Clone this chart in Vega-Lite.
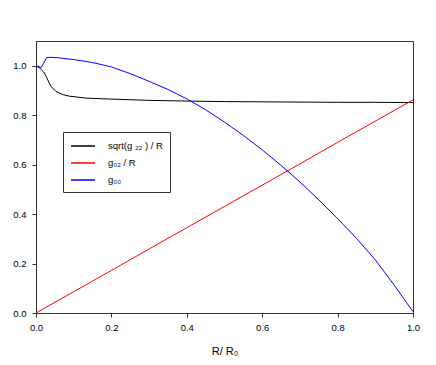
{
  "$schema": "https://vega.github.io/schema/vega-lite/v6.json",
  "width": 377,
  "height": 272,
  "autosize": "none",
  "padding": {"left": 36, "top": 41, "right": 23, "bottom": 52},
  "background": "white",
  "config": {
    "view": {"stroke": "#333", "strokeWidth": 1},
    "font": "Liberation Sans",
    "axis": {
      "grid": false,
      "domainColor": "#333",
      "tickColor": "#333",
      "tickSize": 4,
      "labelColor": "#000",
      "labelFont": "Liberation Sans",
      "labelFontSize": 9.5,
      "labelFlush": false,
      "titleFont": "Liberation Sans",
      "titleFontSize": 11,
      "titleFontWeight": "normal",
      "titleColor": "#000"
    }
  },
  "data": {
    "values": [
      {"label": "sqrt(g ₂₂ ) / R\u00a0\u00a0", "r": 0, "v": 1.0},
      {"label": "sqrt(g ₂₂ ) / R\u00a0\u00a0", "r": 0.01, "v": 0.99},
      {"label": "sqrt(g ₂₂ ) / R\u00a0\u00a0", "r": 0.02, "v": 0.975},
      {"label": "sqrt(g ₂₂ ) / R\u00a0\u00a0", "r": 0.027, "v": 0.957},
      {"label": "sqrt(g ₂₂ ) / R\u00a0\u00a0", "r": 0.035, "v": 0.93},
      {"label": "sqrt(g ₂₂ ) / R\u00a0\u00a0", "r": 0.04, "v": 0.916},
      {"label": "sqrt(g ₂₂ ) / R\u00a0\u00a0", "r": 0.053, "v": 0.896},
      {"label": "sqrt(g ₂₂ ) / R\u00a0\u00a0", "r": 0.07, "v": 0.884},
      {"label": "sqrt(g ₂₂ ) / R\u00a0\u00a0", "r": 0.088, "v": 0.877},
      {"label": "sqrt(g ₂₂ ) / R\u00a0\u00a0", "r": 0.133, "v": 0.869},
      {"label": "sqrt(g ₂₂ ) / R\u00a0\u00a0", "r": 0.2, "v": 0.865},
      {"label": "sqrt(g ₂₂ ) / R\u00a0\u00a0", "r": 0.3, "v": 0.86},
      {"label": "sqrt(g ₂₂ ) / R\u00a0\u00a0", "r": 0.4, "v": 0.857},
      {"label": "sqrt(g ₂₂ ) / R\u00a0\u00a0", "r": 0.5, "v": 0.855},
      {"label": "sqrt(g ₂₂ ) / R\u00a0\u00a0", "r": 0.6, "v": 0.854},
      {"label": "sqrt(g ₂₂ ) / R\u00a0\u00a0", "r": 0.7, "v": 0.853},
      {"label": "sqrt(g ₂₂ ) / R\u00a0\u00a0", "r": 0.8, "v": 0.852},
      {"label": "sqrt(g ₂₂ ) / R\u00a0\u00a0", "r": 0.9, "v": 0.852},
      {"label": "sqrt(g ₂₂ ) / R\u00a0\u00a0", "r": 1.0, "v": 0.851},
      {"label": "g₀₂  / R", "r": 0, "v": 0.0},
      {"label": "g₀₂  / R", "r": 0.1, "v": 0.086},
      {"label": "g₀₂  / R", "r": 0.2, "v": 0.172},
      {"label": "g₀₂  / R", "r": 0.3, "v": 0.259},
      {"label": "g₀₂  / R", "r": 0.4, "v": 0.345},
      {"label": "g₀₂  / R", "r": 0.5, "v": 0.431},
      {"label": "g₀₂  / R", "r": 0.6, "v": 0.517},
      {"label": "g₀₂  / R", "r": 0.7, "v": 0.603},
      {"label": "g₀₂  / R", "r": 0.8, "v": 0.69},
      {"label": "g₀₂  / R", "r": 0.9, "v": 0.776},
      {"label": "g₀₂  / R", "r": 1.0, "v": 0.862},
      {"label": "g₀₀", "r": 0, "v": 1.0},
      {"label": "g₀₀", "r": 0.008, "v": 0.996},
      {"label": "g₀₀", "r": 0.014, "v": 0.993},
      {"label": "g₀₀", "r": 0.02, "v": 1.01},
      {"label": "g₀₀", "r": 0.028, "v": 1.033},
      {"label": "g₀₀", "r": 0.04, "v": 1.034},
      {"label": "g₀₀", "r": 0.06, "v": 1.032},
      {"label": "g₀₀", "r": 0.1, "v": 1.025},
      {"label": "g₀₀", "r": 0.15, "v": 1.013},
      {"label": "g₀₀", "r": 0.2, "v": 0.995},
      {"label": "g₀₀", "r": 0.25, "v": 0.968},
      {"label": "g₀₀", "r": 0.3, "v": 0.937},
      {"label": "g₀₀", "r": 0.35, "v": 0.904},
      {"label": "g₀₀", "r": 0.4, "v": 0.866},
      {"label": "g₀₀", "r": 0.45, "v": 0.822},
      {"label": "g₀₀", "r": 0.5, "v": 0.772},
      {"label": "g₀₀", "r": 0.55, "v": 0.718},
      {"label": "g₀₀", "r": 0.6, "v": 0.66},
      {"label": "g₀₀", "r": 0.65, "v": 0.597},
      {"label": "g₀₀", "r": 0.7, "v": 0.53},
      {"label": "g₀₀", "r": 0.75, "v": 0.458},
      {"label": "g₀₀", "r": 0.8, "v": 0.382},
      {"label": "g₀₀", "r": 0.85, "v": 0.302},
      {"label": "g₀₀", "r": 0.9, "v": 0.215},
      {"label": "g₀₀", "r": 0.95, "v": 0.113},
      {"label": "g₀₀", "r": 1.0, "v": 0.005}
    ]
  },
  "mark": {"type": "line", "strokeWidth": 1},
  "encoding": {
    "x": {
      "field": "r", "type": "quantitative",
      "scale": {"domain": [0, 1], "nice": false, "zero": false},
      "axis": {"values": [0, 0.2, 0.4, 0.6, 0.8, 1.0], "format": ".1f", "labelPadding": 5, "title": "R/ R₀", "titlePadding": 14}
    },
    "y": {
      "field": "v", "type": "quantitative",
      "scale": {"domain": [0, 1.1], "nice": false},
      "axis": {"values": [0, 0.2, 0.4, 0.6, 0.8, 1.0], "format": ".1f", "labelPadding": 6, "title": null}
    },
    "color": {
      "field": "label", "type": "nominal",
      "scale": {"domain": ["sqrt(g ₂₂ ) / R\u00a0\u00a0", "g₀₂  / R", "g₀₀"], "range": ["#000000", "#ff0000", "#0000ff"]},
      "legend": {
        "title": null,
        "orient": "none",
        "legendX": 27,
        "legendY": 91,
        "padding": 7,
        "strokeColor": "#333",
        "symbolType": "M-2,0H2",
        "symbolSize": 144,
        "symbolOffset": 6,
        "labelFont": "Liberation Sans",
        "labelFontSize": 9.5,
        "labelColor": "#000",
        "labelOffset": 18,
        "rowPadding": 5,
        "labelLimit": 200
      }
    }
  }
}
